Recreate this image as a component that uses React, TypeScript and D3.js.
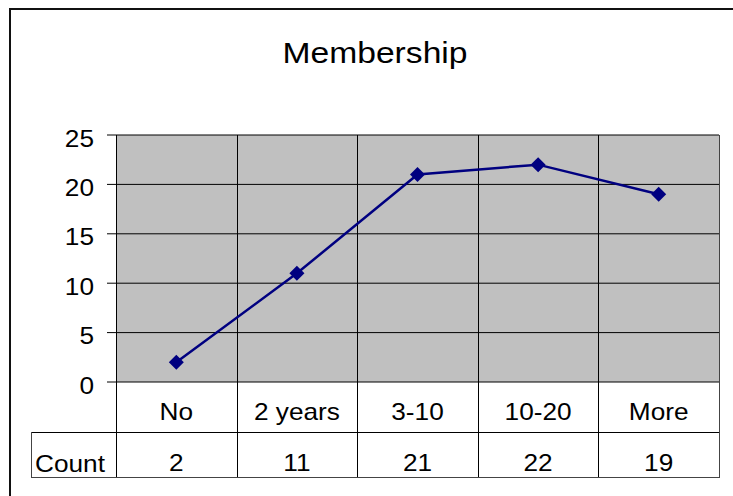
import React from 'react';
import * as d3 from 'd3';

const title = 'Membership';
const categories = ['No', '2 years', '3-10', '10-20', 'More'];
const counts = [2, 11, 21, 22, 19];
const yTicks = [0, 5, 10, 15, 20, 25];
const seriesName = 'Count';

const W = 733;
const H = 496;
const FONT = 'Arial, "Liberation Sans", sans-serif';
const SX = 1.14; // the source text is a bit wider than plain Arial

const plot = { left: 116, right: 719, top: 135, bottom: 382 };
const catRowBottom = 432;
const tableBottom = 477;
const tableLeft = 31;

// stretched text helper
const Label = ({ x, y, size, anchor, children }: any) => (
  <text
    transform={`translate(${x},${y}) scale(${SX},1)`}
    fontFamily={FONT}
    fontSize={size}
    textAnchor={anchor}
    fill="#000"
  >
    {children}
  </text>
);

export default function App() {
  const x = d3.scaleBand<string>().domain(categories).range([plot.left, plot.right]).padding(0);
  const y = d3.scaleLinear().domain([0, 25]).range([plot.bottom, plot.top]);
  const cx = (c: string) => (x(c) as number) + x.bandwidth() / 2;

  const line = d3
    .line<number>()
    .x((_, i) => cx(categories[i]))
    .y(d => y(d));

  const diamond = d3.symbol().type(d3.symbolDiamond2).size(144);
  const bounds = categories.map(c => x(c) as number).concat([plot.right]);

  return (
    <svg
      width={W}
      height={H}
      style={{ position: 'absolute', left: 0, top: 0, background: '#fff' }}
    >
      {/* outer chart frame, runs off the right/bottom edge */}
      <rect x={10} y={9} width={W + 20} height={H + 20} fill="#fff" stroke="#111" strokeWidth={2} />

      <Label x={375} y={63} size={29.5} anchor="middle">{title}</Label>

      {/* plot area */}
      <rect
        x={plot.left}
        y={plot.top}
        width={plot.right - plot.left}
        height={plot.bottom - plot.top}
        fill="#c0c0c0"
      />

      {/* horizontal gridlines + ticks + labels */}
      {yTicks.map(t => (
        <g key={t}>
          <line x1={107} x2={plot.right} y1={y(t)} y2={y(t)} stroke="#000" strokeWidth={1} />
          <Label x={94} y={y(t) + 11.5} size={23} anchor="end">{t}</Label>
        </g>
      ))}

      {/* vertical lines through plot and table */}
      {bounds.map((b, i) => (
        <line
          key={i}
          x1={Math.round(b) + 0.5}
          x2={Math.round(b) + 0.5}
          y1={plot.top}
          y2={tableBottom}
          stroke={i === bounds.length - 1 ? '#444' : '#000'}
          strokeWidth={1}
        />
      ))}

      {/* data table rows */}
      <line x1={tableLeft} x2={plot.right} y1={catRowBottom + 0.5} y2={catRowBottom + 0.5} stroke="#000" />
      <line x1={tableLeft} x2={plot.right + 1} y1={tableBottom + 0.5} y2={tableBottom + 0.5} stroke="#444" />
      <line x1={tableLeft + 0.5} x2={tableLeft + 0.5} y1={catRowBottom} y2={tableBottom} stroke="#444" />

      {categories.map((c, i) => (
        <g key={c}>
          <Label x={cx(c)} y={419.5} size={23} anchor="middle">{c}</Label>
          <Label x={cx(c)} y={471} size={23} anchor="middle">{counts[i]}</Label>
        </g>
      ))}
      <Label x={35} y={472} size={23} anchor="start">{seriesName}</Label>

      {/* series */}
      <path d={line(counts) || ''} fill="none" stroke="#000080" strokeWidth={2.5} />
      {counts.map((v, i) => (
        <path
          key={i}
          d={diamond() || ''}
          transform={`translate(${cx(categories[i])},${y(v)})`}
          fill="#000080"
        />
      ))}
    </svg>
  );
}
